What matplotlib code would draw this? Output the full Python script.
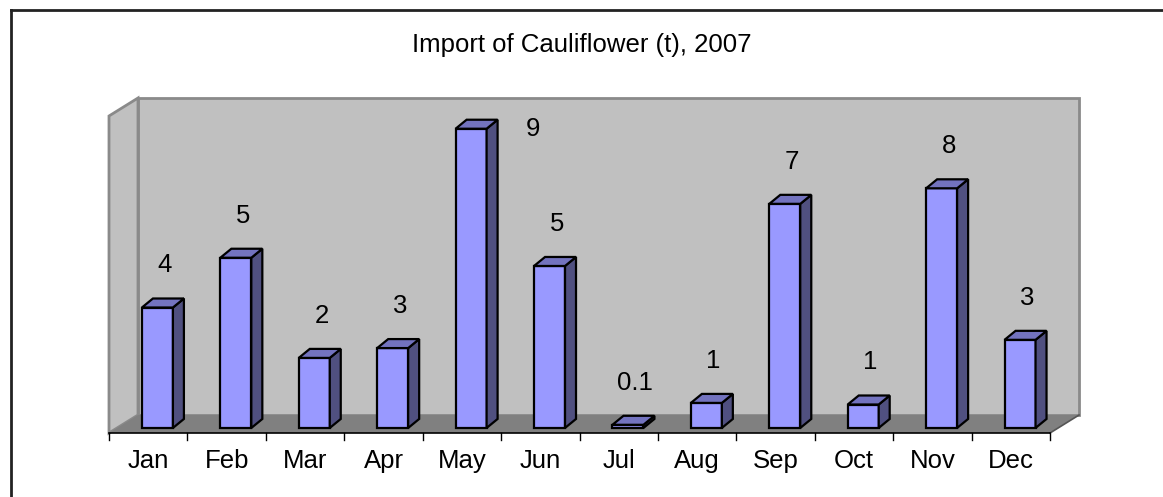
import matplotlib
matplotlib.use('Agg')
import matplotlib.pyplot as plt
from matplotlib.patches import Polygon
from matplotlib.lines import Line2D

months = ['Jan', 'Feb', 'Mar', 'Apr', 'May', 'Jun',
          'Jul', 'Aug', 'Sep', 'Oct', 'Nov', 'Dec']
imports_t = [3.80, 5.37, 2.21, 2.52, 9.44, 5.11,
             0.10, 0.79, 7.07, 0.74, 7.56, 2.78]
title = 'Import of Cauliflower (t), 2007'

plt.rcParams['font.family'] = ['Liberation Sans', 'DejaVu Sans']

W, H, DPI = 1163, 497, 100
fig = plt.figure(figsize=(W / DPI, H / DPI), dpi=DPI)
ax = fig.add_axes([0, 0, 1, 1])
ax.set_axis_off()

# data units: one category per unit on x, one tonne per unit on y
px_x, px_y = 78.42, 31.7
x0_px, y0_px = 109, 433
ax.set_xlim(-x0_px / px_x, (W - x0_px) / px_x)
ax.set_ylim(-(H - y0_px) / px_y, y0_px / px_y)

n = len(months)
ymax = 10
DX, DY = 29 / px_x, 18 / px_y          # full floor depth
wall = '#C0C0C0'
wall_edge = '#8A8A8A'
fs = 18.5

# back wall, side wall and floor
ax.add_patch(Polygon([(DX, DY), (n + DX, DY), (n + DX, ymax + DY), (DX, ymax + DY)],
                     closed=True, fc=wall, ec=wall_edge, lw=2, zorder=1))
ax.add_patch(Polygon([(0, 0), (DX, DY), (DX, ymax + DY), (0, ymax)],
                     closed=True, fc=wall, ec=wall_edge, lw=2, zorder=1))
ax.add_patch(Polygon([(0, 0), (n, 0), (n + DX, DY), (DX, DY)],
                     closed=True, fc='#808080', ec='none', zorder=2))
ax.plot([n, n + DX], [0, DY], color='#555555', lw=1.2, zorder=2)

# 3d columns
front_c, side_c, top_c = '#9999FF', '#505080', '#7373BF'
base = 0.28 * DY
bdx, bdy = 11 / px_x, 0.5 * DY
left_off, right_off = 0.42, 0.815
for i, v in enumerate(imports_t):
    xl, xr = i + left_off, i + right_off
    yb, yt = base, base + v
    z = 3 + i
    ax.add_patch(Polygon([(xl, yb), (xr, yb), (xr, yt), (xl, yt)],
                         closed=True, fc=front_c, ec='black', lw=1.6, zorder=z))
    ax.add_patch(Polygon([(xr, yb), (xr + bdx, yb + bdy), (xr + bdx, yt + bdy), (xr, yt)],
                         closed=True, fc=side_c, ec='black', lw=1.6, zorder=z))
    ax.add_patch(Polygon([(xl, yt), (xr, yt), (xr + bdx, yt + bdy), (xl + bdx, yt + bdy)],
                         closed=True, fc=top_c, ec='black', lw=1.6, zorder=z))

    label = f'{v:.0f}' if v >= 0.5 else f'{v:.1f}'
    if base + v + 1.6 > ymax:
        lx, ly = i + 1.4, base + v
    else:
        lx, ly = i + 0.71, base + v + 1.33
    ax.text(lx, ly, label, ha='center', va='center', fontsize=fs, zorder=20)

# category axis
ax.plot([0, n], [0, 0], color='black', lw=1.2, zorder=15)
for k in range(n + 1):
    ax.plot([k, k], [0, -7 / px_y], color='black', lw=1, zorder=15)
for i, m in enumerate(months):
    ax.text(i + 0.5, -28 / px_y, m, ha='center', va='center', fontsize=fs)

fig.text(582 / W, 1 - 45 / H, title, ha='center', va='center', fontsize=fs)

# chart frame
fig.add_artist(Line2D([11 / W, 11 / W], [0, 1 - 10 / H], color='#222222', lw=2))
fig.add_artist(Line2D([11 / W, 1], [1 - 10 / H, 1 - 10 / H], color='#222222', lw=2))

fig.savefig('out.png', dpi=DPI)
